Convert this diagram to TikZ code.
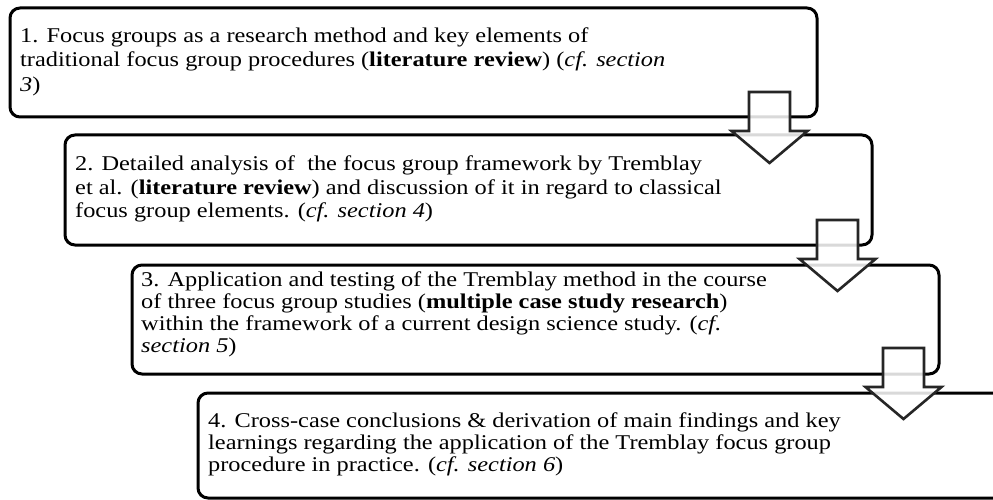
\documentclass[tikz,border=0pt]{standalone}
\usepackage{fontspec}
\setmainfont{Liberation Serif}[FakeStretch=1.16]
\tikzset{
  stage/.style={draw=black, line width=3pt, rounded corners=10pt, fill=white},
  stagetext/.style={anchor=north west, align=left, inner sep=0pt, font=\fontsize{21}{22.5}\selectfont},
  flowarrow/.style={draw=black!85, line width=2.6pt, fill=white, fill opacity=0.85, line join=miter},
  pics/downarrow/.style={code={
    \path[flowarrow] (-20.5,0) -- (20.5,0) -- (20.5,39) -- (38,39) -- (0,71) -- (-38,39) -- (-20.5,39) -- cycle;
  }}
}
\begin{document}
\begin{tikzpicture}[x=1pt,y=-1pt]
\useasboundingbox (0,0) rectangle (993,500);
\clip (0,0) rectangle (993,500);
% boxes
\draw[stage] (10,8) rectangle (817,117);
\draw[stage] (65,135) rectangle (872,245);
\draw[stage] (132,265) rectangle (939,374);
\draw[stage] (198,393) rectangle (1010,498);
% texts
\node[stagetext, font=\fontsize{21}{23.5}\selectfont] (t1) at (20,28) {1. Focus groups as a research method and key elements of\\traditional focus group procedures (\textbf{literature review}) (\textit{cf. section}\\[1.5pt]\textit{3})};
\node[stagetext, font=\fontsize{21}{23.3}\selectfont] (t2) at (75,156) {2. Detailed analysis of\ \ the focus group framework by Tremblay\\et al. (\textbf{literature review}) and discussion of it in regard to classical\\focus group elements. (\textit{cf. section 4})};
\node[stagetext, font=\fontsize{21}{22}\selectfont] (t3) at (141,272) {3. Application and testing of the Tremblay method in the course\\of three focus group studies (\textbf{multiple case study research})\\within the framework of a current design science study. (\textit{cf.}\\\textit{section 5})};
\node[stagetext, font=\fontsize{21}{22}\selectfont] (t4) at (208,413) {4. Cross-case conclusions \& derivation of main findings and key\\learnings regarding the application of the Tremblay focus group\\procedure in practice. (\textit{cf. section 6})};
% arrows
\pic at (769.5,92) {downarrow};
\pic at (837.5,220) {downarrow};
\pic at (903.5,348) {downarrow};
\end{tikzpicture}
\end{document}
